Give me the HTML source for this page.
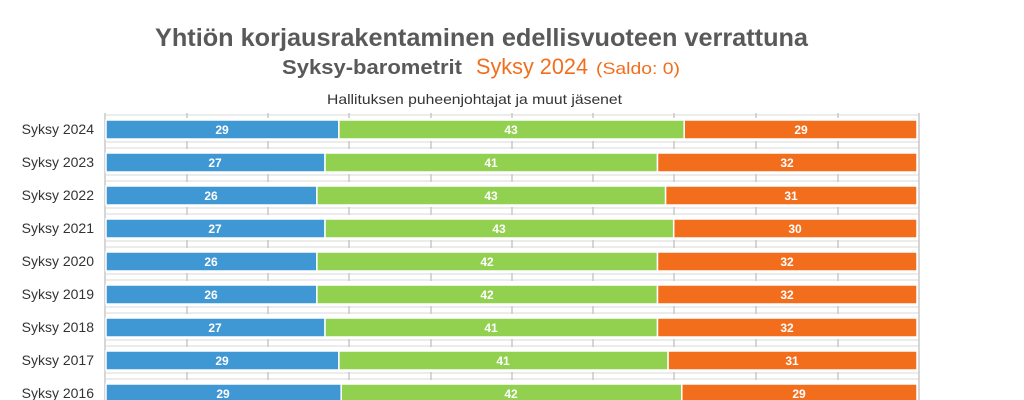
<!DOCTYPE html>
<html><head><meta charset="utf-8"><style>
html,body{margin:0;padding:0;background:#fff;width:1024px;height:400px;overflow:hidden}
svg{display:block}
</style></head><body>
<svg width="1024" height="400" xmlns="http://www.w3.org/2000/svg" font-family="Liberation Sans, sans-serif">
<text x="155" y="46" font-size="25" font-weight="bold" fill="#595959" textLength="653" lengthAdjust="spacingAndGlyphs">Yhtiön korjausrakentaminen  edellisvuoteen  verrattuna</text>
<text x="282" y="74" font-size="20" font-weight="bold" fill="#595959" textLength="180" lengthAdjust="spacingAndGlyphs">Syksy-barometrit</text>
<text x="476" y="74" font-size="22" fill="#f26e1d" textLength="112" lengthAdjust="spacingAndGlyphs">Syksy 2024</text>
<text x="596" y="74" font-size="17" fill="#f26e1d" textLength="84" lengthAdjust="spacingAndGlyphs">(Saldo: 0)</text>
<text x="327" y="104" font-size="14" fill="#333" textLength="295" lengthAdjust="spacingAndGlyphs">Hallituksen puheenjohtajat ja muut jäsenet</text>
<g stroke="#d9d9d9" stroke-width="1">
<line x1="106" y1="115" x2="919" y2="115"/>
<line x1="106" y1="142" x2="919" y2="142"/><line x1="106" y1="148" x2="919" y2="148"/>
<line x1="106" y1="175" x2="919" y2="175"/><line x1="106" y1="181" x2="919" y2="181"/>
<line x1="106" y1="208" x2="919" y2="208"/><line x1="106" y1="214" x2="919" y2="214"/>
<line x1="106" y1="241" x2="919" y2="241"/><line x1="106" y1="247" x2="919" y2="247"/>
<line x1="106" y1="274" x2="919" y2="274"/><line x1="106" y1="280" x2="919" y2="280"/>
<line x1="106" y1="307" x2="919" y2="307"/><line x1="106" y1="313" x2="919" y2="313"/>
<line x1="106" y1="340" x2="919" y2="340"/><line x1="106" y1="346" x2="919" y2="346"/>
<line x1="106" y1="373" x2="919" y2="373"/><line x1="106" y1="379" x2="919" y2="379"/>
</g>
<g stroke="#c8c8c8" stroke-width="1.5">
<line x1="105" y1="113" x2="105" y2="400"/>
<line x1="919" y1="113" x2="919" y2="400"/>
</g>
<g stroke="#c8c8c8" stroke-width="1.5">
<path d="M187 113v5M268 113v5M349 113v5M431 113v5M512 113v5M593 113v5M674 113v5M756 113v5M838 113v5
M187 141v8M268 141v8M349 141v8M431 141v8M512 141v8M593 141v8M674 141v8M756 141v8M838 141v8
M187 174v8M268 174v8M349 174v8M431 174v8M512 174v8M593 174v8M674 174v8M756 174v8M838 174v8
M187 207v8M268 207v8M349 207v8M431 207v8M512 207v8M593 207v8M674 207v8M756 207v8M838 207v8
M187 240v8M268 240v8M349 240v8M431 240v8M512 240v8M593 240v8M674 240v8M756 240v8M838 240v8
M187 273v8M268 273v8M349 273v8M431 273v8M512 273v8M593 273v8M674 273v8M756 273v8M838 273v8
M187 306v8M268 306v8M349 306v8M431 306v8M512 306v8M593 306v8M674 306v8M756 306v8M838 306v8
M187 339v8M268 339v8M349 339v8M431 339v8M512 339v8M593 339v8M674 339v8M756 339v8M838 339v8
M187 372v8M268 372v8M349 372v8M431 372v8M512 372v8M593 372v8M674 372v8M756 372v8M838 372v8"/>
</g>
<g stroke="#fff" stroke-width="1.5">
<rect x="106" y="120" width="232.9" height="19" fill="#3f97d4"/><rect x="338.9" y="120" width="345.3" height="19" fill="#92d050"/><rect x="684.2" y="120" width="232.8" height="19" fill="#f26e1d"/>
<rect x="106" y="153" width="219" height="19" fill="#3f97d4"/><rect x="325" y="153" width="332.5" height="19" fill="#92d050"/><rect x="657.5" y="153" width="259.5" height="19" fill="#f26e1d"/>
<rect x="106" y="186" width="210.9" height="19" fill="#3f97d4"/><rect x="316.9" y="186" width="348.7" height="19" fill="#92d050"/><rect x="665.6" y="186" width="251.4" height="19" fill="#f26e1d"/>
<rect x="106" y="219" width="219" height="19" fill="#3f97d4"/><rect x="325" y="219" width="348.7" height="19" fill="#92d050"/><rect x="673.7" y="219" width="243.3" height="19" fill="#f26e1d"/>
<rect x="106" y="252" width="210.9" height="19" fill="#3f97d4"/><rect x="316.9" y="252" width="340.6" height="19" fill="#92d050"/><rect x="657.5" y="252" width="259.5" height="19" fill="#f26e1d"/>
<rect x="106" y="285" width="210.9" height="19" fill="#3f97d4"/><rect x="316.9" y="285" width="340.6" height="19" fill="#92d050"/><rect x="657.5" y="285" width="259.5" height="19" fill="#f26e1d"/>
<rect x="106" y="318" width="219" height="19" fill="#3f97d4"/><rect x="325" y="318" width="332.5" height="19" fill="#92d050"/><rect x="657.5" y="318" width="259.5" height="19" fill="#f26e1d"/>
<rect x="106" y="351" width="232.9" height="19" fill="#3f97d4"/><rect x="338.9" y="351" width="329.2" height="19" fill="#92d050"/><rect x="668.1" y="351" width="248.9" height="19" fill="#f26e1d"/>
<rect x="106" y="384" width="235.2" height="19" fill="#3f97d4"/><rect x="341.2" y="384" width="340.6" height="19" fill="#92d050"/><rect x="681.8" y="384" width="235.2" height="19" fill="#f26e1d"/>
</g>
<g font-size="12" font-weight="bold" fill="#fff" text-anchor="middle">
<text x="222" y="134">29</text><text x="511" y="134">43</text><text x="801" y="134">29</text>
<text x="215" y="167">27</text><text x="491" y="167">41</text><text x="787" y="167">32</text>
<text x="211" y="200">26</text><text x="491" y="200">43</text><text x="791" y="200">31</text>
<text x="215" y="233">27</text><text x="499" y="233">43</text><text x="795" y="233">30</text>
<text x="211" y="266">26</text><text x="487" y="266">42</text><text x="787" y="266">32</text>
<text x="211" y="299">26</text><text x="487" y="299">42</text><text x="787" y="299">32</text>
<text x="215" y="332">27</text><text x="491" y="332">41</text><text x="787" y="332">32</text>
<text x="222" y="365">29</text><text x="503" y="365">41</text><text x="792" y="365">31</text>
<text x="223" y="398">29</text><text x="511" y="398">42</text><text x="799" y="398">29</text>
</g>
<g font-size="14" fill="#333" text-anchor="end">
<text x="94" y="134">Syksy 2024</text>
<text x="94" y="167">Syksy 2023</text>
<text x="94" y="200">Syksy 2022</text>
<text x="94" y="233">Syksy 2021</text>
<text x="94" y="266">Syksy 2020</text>
<text x="94" y="299">Syksy 2019</text>
<text x="94" y="332">Syksy 2018</text>
<text x="94" y="365">Syksy 2017</text>
<text x="94" y="398">Syksy 2016</text>
</g>
</svg>
</body></html>
